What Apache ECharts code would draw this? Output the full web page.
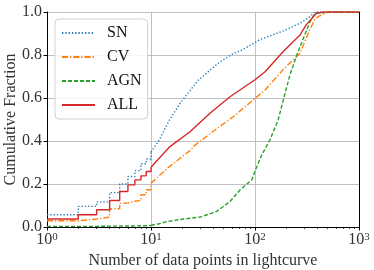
<!DOCTYPE html>
<html><head><meta charset="utf-8">
<script src="https://cdn.jsdelivr.net/npm/echarts@6/dist/echarts.min.js"></script>
<style>html,body{margin:0;padding:0;background:#fff}#c{width:374px;height:270px}</style>
</head><body><div id="c"></div>
<script>
// Discrete (step) part of each CDF: [x, fraction]
const snStep  = [[1,0.057],[2,0.096],[3,0.117],[4,0.16],[5,0.2],[6,0.235],[7,0.262],[8,0.294],[9,0.316],[10,0.348]];
const cvStep  = [[1,0.029],[2,0.037],[3,0.046],[4,0.085],[5,0.111],[6,0.12],[7,0.123],[8,0.15],[9,0.173],[10,0.204]];
const agnStep = [[1,0.003],[2,0.003],[3,0.004],[4,0.004],[5,0.005],[6,0.005],[7,0.006],[8,0.006],[9,0.007],[10,0.008]];
const allStep = [[1,0.037],[2,0.057],[3,0.08],[4,0.123],[5,0.165],[6,0.196],[7,0.219],[8,0.238],[9,0.258],[10,0.278]];
// Dense part of each CDF
const snCont  = [[10,0.348],[12,0.405],[15,0.497],[19,0.575],[20.4,0.594],[24,0.637],[28.5,0.683],[35,0.72],[46,0.768],[62,0.807],[72,0.819],[100,0.858],[112,0.872],[187,0.912],[271,0.948],[330,0.975],[378,1.0],[1000,1.0]];
const cvCont  = [[10,0.204],[15,0.281],[23.7,0.355],[26.5,0.381],[41.2,0.451],[61.8,0.513],[100,0.598],[125,0.637],[187,0.733],[271,0.808],[310,0.878],[378,0.971],[500,1.0],[1000,1.0]];
const agnCont = [[10,0.008],[12,0.015],[14.2,0.025],[20.4,0.037],[29.6,0.046],[42.8,0.072],[57.5,0.119],[72,0.173],[93,0.219],[100,0.26],[116,0.335],[139,0.405],[167,0.498],[187,0.59],[217,0.708],[252,0.8],[292,0.878],[338,0.955],[378,0.994],[520,1.0],[1000,1.0]];
const allCont = [[10,0.278],[15.2,0.374],[23.7,0.443],[36.9,0.529],[57.5,0.606],[100,0.685],[125,0.722],[187,0.816],[271,0.893],[310,0.94],[390,0.994],[450,1.0],[1000,1.0]];
const names = ['SN','CV','AGN','ALL'];
const colors = ['#1f77b4','#ff7f0e','#2ca02c','#d62728'];
const dashes = [[1.3,2],[6,2,1.3,2],[4,2],'solid'];
const minorTicks = [2,3,4,5,6,7,8,9,20,30,40,50,60,70,80,90,200,300,400,500,600,700,800,900];

const FONT = 'Liberation Serif';
const steps = [snStep,cvStep,agnStep,allStep];
const conts = [snCont,cvCont,agnCont,allCont];
const series = [];
names.forEach((n,i)=>{
  const ls = {color:colors[i], width:1.4, type:dashes[i]};
  series.push({name:n, type:'line', data:steps[i], step:'end', symbol:'none', showSymbol:false, lineStyle:ls, itemStyle:{color:colors[i]}, silent:true, animation:false});
});
names.forEach((n,i)=>{
  const ls = {color:colors[i], width:1.4, type:dashes[i]};
  series.push({name:n+'_c', type:'line', data:conts[i], symbol:'none', lineStyle:ls, itemStyle:{color:colors[i]}, silent:true, animation:false});
});
const chart = echarts.init(document.getElementById('c'), null, {renderer:'canvas'});
chart.setOption({
  animation:false,
  backgroundColor:'#fff',
  grid:{left:47,right:15,top:12,bottom:43,containLabel:false,outerBoundsMode:'none'},
  legend:{
    data:names, orient:'vertical', left:55, top:19,
    padding:[6,6,6,6], itemWidth:33, itemHeight:14, itemGap:8,
    itemStyle:{opacity:0},
    backgroundColor:'rgba(255,255,255,0.85)', borderColor:'#d0d0d0', borderWidth:1, borderRadius:4,
    textStyle:{fontFamily:FONT, fontSize:16, color:'#111', padding:[0,0,0,7]}
  },
  xAxis:[{
    type:'log', logBase:10, min:1, max:1000,
    name:'Number of data points in lightcurve', nameLocation:'middle', nameGap:23,
    nameTextStyle:{fontFamily:FONT, fontSize:16, color:'#333'},
    axisLine:{show:true, onZero:false, lineStyle:{color:'#000', width:1}},
    axisTick:{show:true, inside:false, length:3.5, lineStyle:{color:'#000'}},
    splitLine:{show:true, lineStyle:{color:'#b0b0b0', width:0.8}},
    axisLabel:{margin:5, color:'#333', fontFamily:FONT,
      formatter:v=>'{b|10}{s|'+Math.round(Math.log10(v))+'}',
      rich:{b:{fontFamily:FONT,fontSize:16,color:'#333'}, s:{fontFamily:FONT,fontSize:11,color:'#333',verticalAlign:'top'}}}
  },{
    type:'log', logBase:10, min:1, max:1000, position:'bottom',
    axisLine:{show:false}, splitLine:{show:false}, axisLabel:{show:false},
    axisTick:{show:true, length:2, customValues:minorTicks, lineStyle:{color:'#000', width:0.7}}
  },{
    type:'log', logBase:10, min:1, max:1000, position:'top',
    axisLine:{show:true, lineStyle:{color:'#000', width:1}}, axisTick:{show:false}, axisLabel:{show:false}, splitLine:{show:false}
  }],
  yAxis:[{
    type:'value', min:0, max:1, interval:0.2,
    name:'Cumulative Fraction', nameLocation:'middle', nameGap:36, nameRotate:90, nameMoveOverlap:false,
    nameTextStyle:{fontFamily:FONT, fontSize:16, color:'#333', verticalAlign:'middle'},
    axisLine:{show:true, lineStyle:{color:'#000', width:1}},
    axisTick:{show:true, length:3.5, lineStyle:{color:'#000'}},
    splitLine:{show:true, lineStyle:{color:'#b0b0b0', width:0.8}},
    axisLabel:{margin:5, fontFamily:FONT, fontSize:16, color:'#333', formatter:v=>v.toFixed(1)}
  },{
    type:'value', min:0, max:1, position:'right',
    axisLine:{show:true, lineStyle:{color:'#000', width:1}}, axisTick:{show:false}, axisLabel:{show:false}, splitLine:{show:false}
  }],
  series:series
});
</script></body></html>
